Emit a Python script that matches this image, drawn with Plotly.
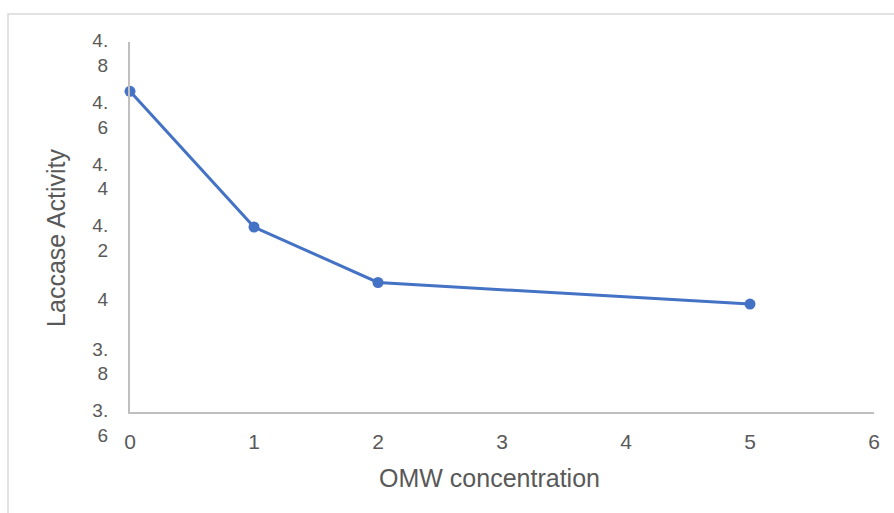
import plotly.graph_objects as go

# Data
omw_concentration = [0, 1, 2, 5]
laccase_activity = [4.64, 4.20, 4.02, 3.95]

y_tick_vals = [3.6, 3.8, 4.0, 4.2, 4.4, 4.6, 4.8]
y_tick_text = ["3.<br>6", "3.<br>8", "4", "4.<br>2", "4.<br>4", "4.<br>6", "4.<br>8"]
x_tick_vals = [0, 1, 2, 3, 4, 5, 6]

text_color = "#595959"
axis_color = "#bfbfbf"
series_color = "#4472C4"

W, H = 894, 513
L, R, T = 130, 20, 42
axis_bottom = 411.7          # pixel row of the x axis
label_shift = 11             # y tick labels sit a little below their ticks
plot_bottom = axis_bottom + label_shift
B = H - plot_bottom
pw = W - L - R
ph = plot_bottom - T

pad = '<span style="color:rgba(0,0,0,0)">{}</span>'

fig = go.Figure()
fig.add_trace(go.Scatter(
    x=omw_concentration, y=laccase_activity,
    mode="lines+markers",
    line=dict(color=series_color, width=3),
    marker=dict(color=series_color, size=11),
    showlegend=False,
    cliponaxis=False,
))

fig.update_layout(
    width=W, height=H,
    margin=dict(l=L, r=R, t=T, b=B, autoexpand=False),
    paper_bgcolor="white", plot_bgcolor="rgba(0,0,0,0)",
    font=dict(family="Liberation Sans, Arial, sans-serif", color=text_color),
    xaxis=dict(
        range=[0, 6], tickvals=x_tick_vals, showgrid=False, zeroline=False,
        showline=True, linecolor=axis_color, linewidth=1.5, anchor="y",
        ticks="outside", ticklen=0, tickfont=dict(size=21, color=text_color),
        ticklabelstandoff=10,
        title=dict(text="OMW concentration" + pad.format("xx"),
                   font=dict(size=25, color=text_color), standoff=18),
    ),
    yaxis=dict(
        domain=[label_shift / ph, 1],
        range=[3.6, 4.8], tickvals=y_tick_vals, showticklabels=False,
        showgrid=False, zeroline=False,
        showline=True, linecolor=axis_color, linewidth=1.5,
        ticks="",
    ),
    yaxis2=dict(
        domain=[0, 1 - label_shift / ph], anchor="x",
        range=[3.6, 4.8], tickvals=y_tick_vals, ticktext=y_tick_text,
        showgrid=False, zeroline=False, showline=False,
        ticks="outside", ticklen=0, tickfont=dict(size=19, color=text_color),
        ticklabelstandoff=17,
        title=dict(text="Laccase Activity\u00a0\u00a0\u00a0",
                   font=dict(size=25, color=text_color), standoff=19),
    ),
    shapes=[dict(
        type="rect", xref="paper", yref="paper",
        x0=(8 - L) / pw, x1=(W + 10 - L) / pw,
        y0=(plot_bottom - (H + 10)) / ph, y1=(plot_bottom - 14) / ph,
        line=dict(color="#d9d9d9", width=1.5), fillcolor="rgba(0,0,0,0)", layer="below",
    )],
)

# invisible trace to make the label axis render
fig.add_trace(go.Scatter(x=[None], y=[None], yaxis="y2", showlegend=False, hoverinfo="skip"))

fig.write_html("out.html")
